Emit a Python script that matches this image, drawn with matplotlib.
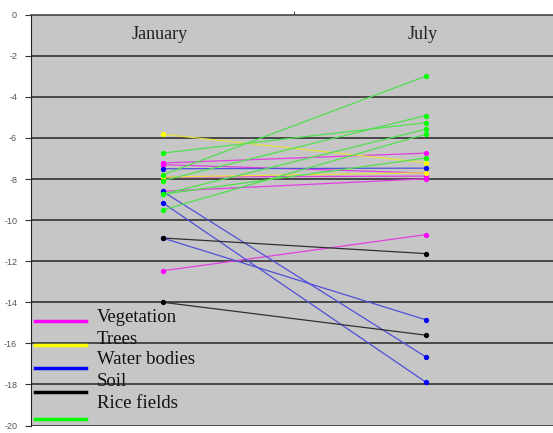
import matplotlib
matplotlib.use("Agg")
import matplotlib.pyplot as plt
from matplotlib.lines import Line2D

months = ["January", "July"]

# each series: list of (January, July) pairs
vegetation_jan = [-7.22, -7.30, -7.90, -8.60, -12.47]
vegetation_jul = [-6.74, -7.71, -7.86, -7.99, -10.71]
trees_jan = [-5.82, -7.90]
trees_jul = [-7.20, -7.70]
water_jan = [-7.50, -8.60, -9.15, -10.87]
water_jul = [-7.47, -16.65, -17.88, -14.85]
soil_jan = [-10.87, -14.00]
soil_jul = [-11.63, -15.60]
rice_jan = [-6.74, -7.80, -8.08, -8.74, -8.74, -9.51]
rice_jul = [-5.26, -3.00, -4.91, -6.98, -5.58, -5.82]

names = ["Vegetation", "Trees", "Water bodies", "Soil", "Rice fields"]
colors = ["#ff00ff", "#ffff00", "#0000ff", "#000000", "#00ff00"]
line_colors = ["#e040e0", "#e8e040", "#5050d8", "#303030", "#50e050"]
series = [(vegetation_jan, vegetation_jul), (trees_jan, trees_jul),
          (water_jan, water_jul), (soil_jan, soil_jul), (rice_jan, rice_jul)]

fig = plt.figure(figsize=(5.53, 4.33), dpi=100)
ax = fig.add_axes([31 / 553, 1 - 425.5 / 433, 526 / 553, (425.5 - 14.7) / 433])
ax.set_facecolor("#c6c6c6")

xs = list(range(len(months)))
for k, ((jan, jul), c, lc) in enumerate(zip(series, colors, line_colors)):
    for a, b in zip(jan, jul):
        ax.plot(xs, [a, b], color=lc, lw=0.9, zorder=3 + k * 0.1)
        ax.plot(xs, [a, b], ls="none", marker="o", ms=2.8, color=c, zorder=4 + k * 0.1)

ax.set_xlim(-0.5, 1.5)
ax.set_ylim(-20, 0)
ax.set_yticks(range(0, -21, -2))
ax.set_yticklabels([str(v) for v in range(0, -21, -2)], fontsize=6.5,
                   color="#555555", family="Liberation Sans")
ax.tick_params(axis="y", direction="out", length=4, width=0.8, color="#333333", pad=6)
for v in range(-2, -21, -2):
    ax.axhline(v, color="#333333", lw=1.2, zorder=1)

ax.xaxis.tick_top()
ax.set_xticks([0.5])
ax.set_xticklabels([""])
ax.tick_params(axis="x", direction="out", length=3, width=0.8, color="#555555")
for i, m in enumerate(months):
    ax.text(i - 0.01, -0.95, m, ha="center", va="center", fontsize=13,
            family="Liberation Serif", color="#222222")

for s in ["right", "bottom"]:
    ax.spines[s].set_visible(False)
ax.spines["left"].set_color("#222222")
ax.spines["top"].set_color("#444444")
ax.spines["top"].set_linewidth(1.2)

# legend drawn by hand, lines and labels offset like the original
line_y = [321, 345, 368, 392, 419]
text_y = [318, 339, 360, 381, 403]
for n, c, ly, ty in zip(names, colors, line_y, text_y):
    fig.add_artist(Line2D([35 / 553, 86 / 553], [1 - ly / 433, 1 - ly / 433],
                          color=c, lw=2.5))
    fig.text(97 / 553, 1 - ty / 433, n, fontsize=13.5, family="Liberation Serif",
             va="center", ha="left", color="#111111")

fig.savefig("out.png", dpi=100)
